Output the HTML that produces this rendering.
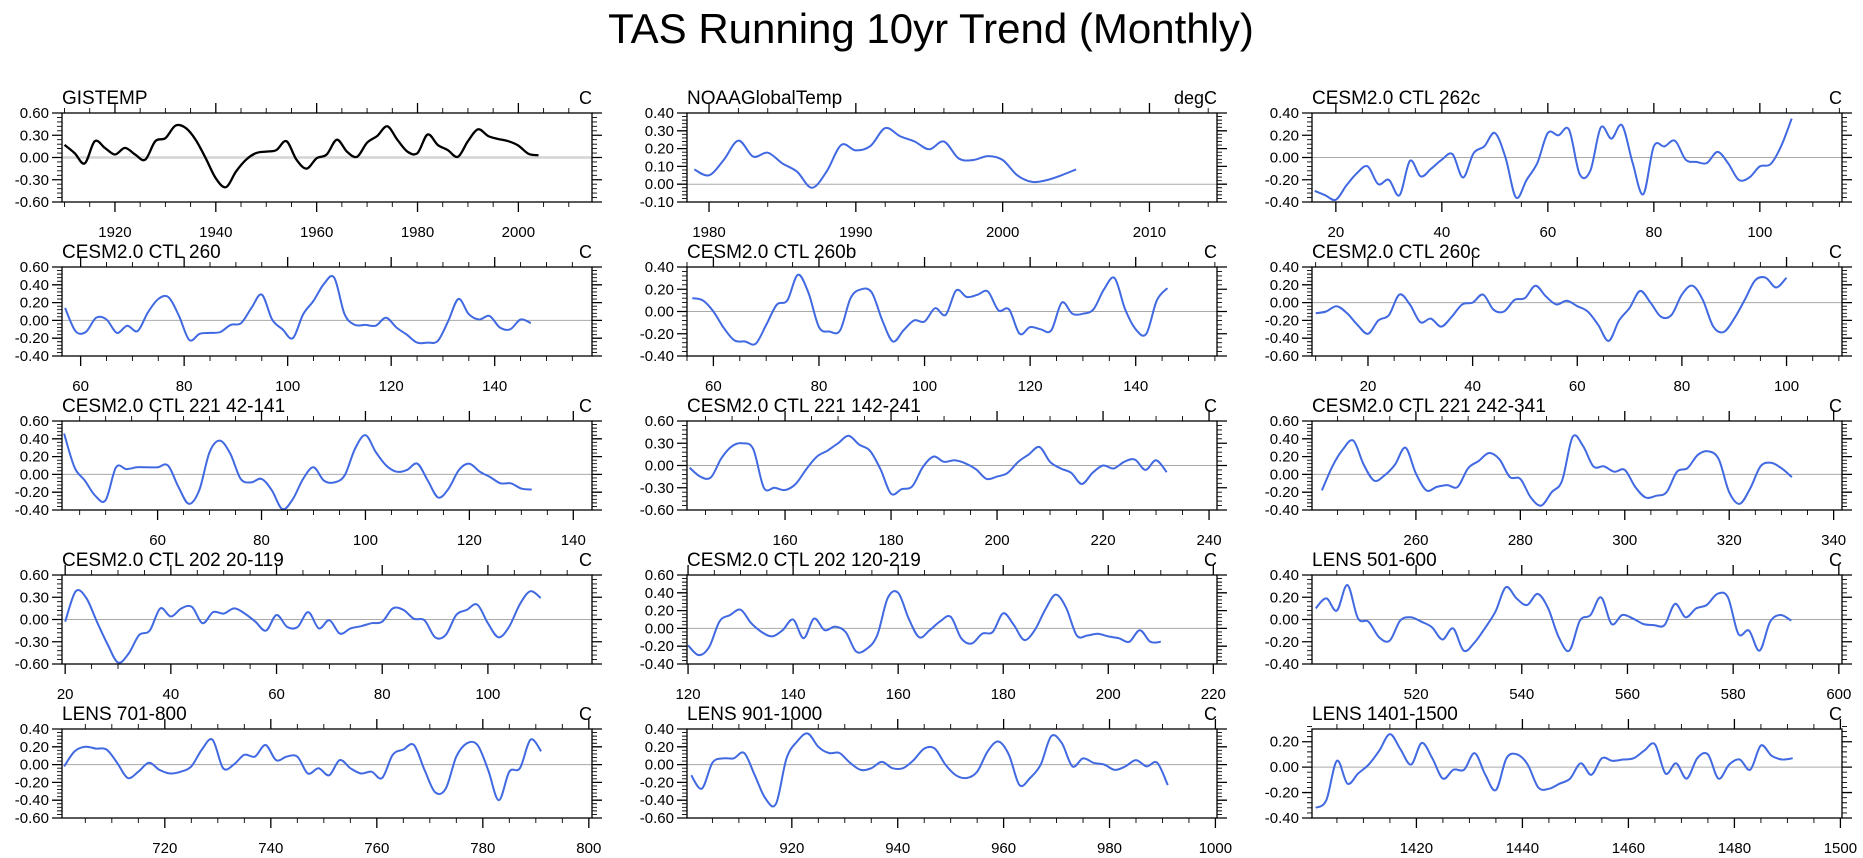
<!DOCTYPE html>
<html><head><meta charset="utf-8"><style>
html,body{margin:0;padding:0;background:#fff;}
svg{display:block;font-family:"Liberation Sans",Arial,sans-serif;}
</style></head><body>
<svg id="fig" width="1863" height="858" viewBox="0 0 1863 858" xmlns="http://www.w3.org/2000/svg">
<text x="931" y="43" font-size="42" text-anchor="middle">TAS Running 10yr Trend (Monthly)</text>
</svg>
<script>
const panelTitles = ["GISTEMP","NOAAGlobalTemp","CESM2.0 CTL 262c","CESM2.0 CTL 260","CESM2.0 CTL 260b","CESM2.0 CTL 260c","CESM2.0 CTL 221 42-141","CESM2.0 CTL 221 142-241","CESM2.0 CTL 221 242-341","CESM2.0 CTL 202 20-119","CESM2.0 CTL 202 120-219","LENS 501-600","LENS 701-800","LENS 901-1000","LENS 1401-1500"];
const panelUnits = ["C","degC","C","C","C","C","C","C","C","C","C","C","C","C","C"];
const xMins = [1909.5,1978.5,15.5,56.4,55,9.3,41.6,141.5,240.1,19.4,119.8,500.3,700.6,900.2,1400.3];
const xMaxs = [2014.6,2014.6,115.5,158.8,155.4,110.6,143.6,241.5,341.6,119.7,220.7,600.6,800.6,1000.3,1500.3];
const xMajors = [20,10,20,20,20,20,20,20,20,20,20,20,20,20,20];
const xMinors = [5,2,5,5,5,5,5,5,5,5,5,5,5,5,5];
const yMins = [-0.6,-0.1,-0.4,-0.4,-0.4,-0.6,-0.4,-0.6,-0.4,-0.6,-0.4,-0.4,-0.6,-0.6,-0.4];
const yMaxs = [0.6,0.4,0.4,0.6,0.4,0.4,0.6,0.6,0.6,0.6,0.6,0.4,0.4,0.4,0.3];
const ySteps = [0.3,0.1,0.2,0.2,0.2,0.2,0.2,0.3,0.2,0.3,0.2,0.2,0.2,0.2,0.2];
const seriesStart = [1910,1979,16,57,56,10,42,142,242,20,120,501,701,901,1401];
const seriesStep = [2,1,2,2,2,2,2,2,2,2,2,2,2,2,2];

const v0 = [.17,.06,-.08,.22,.13,.04,.13,.04,-.03,.22,.26,.43,.40,.24,-.01,-.28,-.40,-.19,-.03,.06,.08,.10,.22,-.03,-.15,-.01,.04,.24,.08,.01,.20,.29,.42,.24,.08,.06,.31,.17,.10,.01,.22,.38,.29,.25,.22,.16,.05,.03];
const v1 = [.083,.05,.136,.245,.155,.177,.117,.07,-.02,.07,.22,.19,.215,.315,.27,.24,.196,.24,.145,.136,.158,.136,.05,.013,.023,.05,.083];
const v2 = [-.30,-.34,-.38,-.25,-.14,-.08,-.24,-.20,-.34,-.03,-.17,-.10,-.02,.03,-.18,.04,.10,.22,0,-.36,-.20,-.05,.22,.20,.25,-.15,-.12,.27,.17,.29,-.05,-.33,.10,.10,.15,-.02,-.04,-.05,.05,-.05,-.20,-.18,-.08,-.06,.10,.35];
const v3 = [.14,-.12,-.13,.03,.01,-.14,-.06,-.12,.09,.24,.26,.05,-.22,-.15,-.14,-.13,-.05,-.03,.14,.29,.01,-.10,-.20,.07,.22,.41,.48,.07,-.05,-.05,-.06,.03,-.08,-.16,-.25,-.25,-.23,-.01,.24,.07,.01,.05,-.08,-.10,.01,-.03];
const v4 = [.12,.10,0,-.15,-.26,-.27,-.29,-.12,.06,.10,.33,.17,-.14,-.18,-.17,.12,.20,.17,-.08,-.27,-.17,-.08,-.09,.03,-.03,.19,.13,.15,.18,.01,.02,-.20,-.14,-.16,-.17,.08,-.02,-.02,.02,.20,.30,.02,-.16,-.20,.10,.21];
const v5 = [-.12,-.10,-.04,-.12,-.25,-.35,-.20,-.14,.09,-.02,-.22,-.18,-.27,-.16,-.02,0,.09,-.08,-.10,.03,.05,.19,.07,-.02,.02,-.04,-.10,-.25,-.43,-.20,-.06,.13,0,-.16,-.14,.09,.19,.03,-.27,-.33,-.18,.03,.25,.28,.17,.28];
const v6 = [.46,.08,-.07,-.24,-.29,.08,.06,.08,.08,.08,.10,-.14,-.33,-.18,.25,.38,.23,-.05,-.09,-.05,-.18,-.39,-.28,-.05,.08,-.07,-.09,-.01,.29,.44,.25,.10,.03,.05,.12,-.07,-.26,-.16,.05,.12,.03,-.03,-.10,-.10,-.16,-.17];
const v7 = [-.03,-.15,-.16,.10,.26,.30,.22,-.30,-.30,-.33,-.25,-.05,.12,.20,.30,.40,.28,.20,-.05,-.38,-.32,-.28,-.02,.12,.05,.07,.03,-.05,-.18,-.15,-.10,.05,.15,.25,.05,-.04,-.10,-.25,-.10,0,-.04,.05,.08,-.06,.07,-.09];
const v8 = [-.18,.09,.28,.38,.11,-.07,-.01,.11,.30,.01,-.18,-.14,-.12,-.14,.07,.15,.24,.17,-.03,-.05,-.26,-.35,-.20,-.07,.42,.32,.09,.09,.03,.05,-.14,-.26,-.24,-.20,.03,.07,.22,.26,.17,-.20,-.33,-.16,.09,.13,.07,-.03];
const v9 = [-.03,.38,.29,-.03,-.33,-.58,-.46,-.21,-.15,.15,.04,.15,.17,-.05,.10,.08,.15,.08,-.03,-.15,.06,-.10,-.10,.10,-.12,-.01,-.19,-.12,-.09,-.05,-.03,.15,.13,.01,-.01,-.24,-.21,.06,.13,.20,-.05,-.24,-.10,.20,.38,.29];
const v10 = [-.19,-.30,-.21,.08,.15,.21,.06,-.04,-.09,-.02,.10,-.11,.11,-.02,.02,-.04,-.26,-.23,-.08,.34,.40,.11,-.10,-.02,.08,.13,-.11,-.17,-.06,-.04,.17,.04,-.13,-.02,.21,.38,.23,-.08,-.08,-.06,-.09,-.11,-.15,-.02,-.15,-.15];
const v11 = [.10,.19,.08,.31,.01,-.02,-.16,-.19,-.01,.02,-.02,-.07,-.18,-.08,-.28,-.21,-.08,.07,.29,.19,.13,.23,.10,-.16,-.28,-.01,.04,.20,-.04,.04,.01,-.04,-.05,-.05,.14,.02,.10,.13,.23,.20,-.13,-.10,-.28,-.02,.04,-.01];
const v12 = [-.02,.15,.20,.18,.17,.02,-.15,-.08,.02,-.06,-.10,-.08,-.02,.17,.28,-.04,0,.11,.09,.22,.05,.09,.09,-.10,-.04,-.12,.05,-.04,-.10,-.08,-.15,.11,.17,.22,-.06,-.31,-.27,.09,.24,.22,-.06,-.40,-.08,-.04,.28,.15];
const v13 = [-.12,-.27,.02,.07,.07,.13,-.12,-.38,-.44,.07,.26,.35,.20,.13,.13,.02,-.06,-.04,.03,-.04,-.04,.05,.18,.18,0,-.12,-.15,-.08,.15,.26,.11,-.23,-.15,0,.32,.24,-.02,.07,.02,0,-.06,-.02,.05,-.02,.02,-.23];
const v14 = [-.32,-.26,.05,-.13,-.05,.02,.13,.26,.14,.02,.19,.07,-.09,-.02,-.02,.11,-.06,-.18,.07,.10,.02,-.16,-.17,-.13,-.09,.03,-.06,.07,.05,.06,.07,.13,.18,-.05,.03,-.09,.07,.10,-.09,.02,.06,-.02,.17,.09,.06,.07];
const allSeries = [v0,v1,v2,v3,v4,v5,v6,v7,v8,v9,v10,v11,v12,v13,v14];

const NS = "http://www.w3.org/2000/svg";
const svg = document.getElementById("fig");
const colLeft = [62, 687, 1312];
const rowTop = [113, 267, 421, 575, 729];
const PW = 530, PH = 89;

function mk(tag, attrs, parent) {
  const e = document.createElementNS(NS, tag);
  for (const k in attrs) e.setAttribute(k, attrs[k]);
  parent.appendChild(e);
  return e;
}
function fmt(v) { let s = (Math.round(v * 100) / 100).toFixed(2); if (s === "-0.00") s = "0.00"; return s; }

for (let p = 0; p < 15; p++) {
  const L = colLeft[p % 3], T = rowTop[Math.floor(p / 3)], R = L + PW, B = T + PH;
  const x0 = xMins[p], x1 = xMaxs[p], y0 = yMins[p], y1 = yMaxs[p];
  const sx = v => L + (v - x0) / (x1 - x0) * PW;
  const sy = v => B - (v - y0) / (y1 - y0) * PH;
  const g = mk("g", {}, svg);
  
  

  const t = mk("text", {x: L, y: T - 9, "font-size": 19}, g);
  t.textContent = panelTitles[p];
  
  
  const u = mk("text", {x: R, y: T - 9, "font-size": 18, "text-anchor": "end"}, g);
  u.textContent = panelUnits[p];
  
  

  const z = mk("line", {x1: L, x2: R, y1: sy(0), y2: sy(0), stroke: p === 0 ? "#d4d4d4" : "#aaaaaa", "stroke-width": p === 0 ? 2.5 : 1}, g);
  
  

  const maj = xMajors[p], mnr = xMinors[p];
  for (let v = Math.ceil(x0 / mnr) * mnr; v <= x1 + 1e-9; v += mnr) {
    const isMaj = Math.abs(v / maj - Math.round(v / maj)) < 1e-6;
    const len = isMaj ? 10 : 5, X = sx(v);
    const tk = mk("path", {d: `M${X},${T}V${T - len}M${X},${B}V${B + len}`, stroke: "#000", "stroke-width": isMaj ? 1.3 : 0.9}, g);
    
    
    if (isMaj) {
      const lb = mk("text", {x: X, y: B + 35, "font-size": 15, "text-anchor": "middle"}, g);
      lb.textContent = String(Math.round(v));
      
      
    }
  }
  const st = ySteps[p], nMaj = Math.round((y1 - y0) / st);
  const ymn = st / 5;
  const nMin = Math.round((y1 - y0) / ymn);
  for (let i = 0; i <= nMin; i++) {
    if (i % 5 === 0) continue;
    const Y = sy(y0 + i * ymn);
    const tk = mk("path", {d: `M${L},${Y}H${L - 5}M${R},${Y}H${R + 5}`, stroke: "#000", "stroke-width": 0.9}, g);
    
    
  }
  for (let i = 0; i <= nMaj; i++) {
    const v = y0 + i * st, Y = sy(v);
    const tk = mk("path", {d: `M${L},${Y}H${L - 10}M${R},${Y}H${R + 10}`, stroke: "#000", "stroke-width": 1.3}, g);
    
    
    const lb = mk("text", {x: L - 13, y: Y + 5, "font-size": 15, "text-anchor": "end"}, g);
    lb.textContent = fmt(v);
    
    
  }

  // series line (smooth Catmull-Rom through data points)
  const vals = allSeries[p];
  const pts = vals.map((v, i) => [sx(seriesStart[p] + i * seriesStep[p]), sy(v)]);
  let d = "M" + pts[0][0].toFixed(1) + "," + pts[0][1].toFixed(1);
  for (let i = 0; i < pts.length - 1; i++) {
    const a = pts[Math.max(0, i - 1)], b = pts[i], c = pts[i + 1], e = pts[Math.min(pts.length - 1, i + 2)];
    const c1x = b[0] + (c[0] - a[0]) / 6, c1y = b[1] + (c[1] - a[1]) / 6;
    const c2x = c[0] - (e[0] - b[0]) / 6, c2y = c[1] - (e[1] - b[1]) / 6;
    d += "C" + c1x.toFixed(1) + "," + c1y.toFixed(1) + " " + c2x.toFixed(1) + "," + c2y.toFixed(1) + " " + c[0].toFixed(1) + "," + c[1].toFixed(1);
  }
  const ln = mk("path", {d: d, fill: "none", stroke: p === 0 ? "#000" : "#4169e1", "stroke-width": p === 0 ? 2.3 : 2, "stroke-linejoin": "round"}, g);
  
  

  const fr = mk("rect", {x: L, y: T, width: PW, height: PH, fill: "none", stroke: "#000", "stroke-width": 1.3}, g);
  
  
}
</script>
</body></html>
